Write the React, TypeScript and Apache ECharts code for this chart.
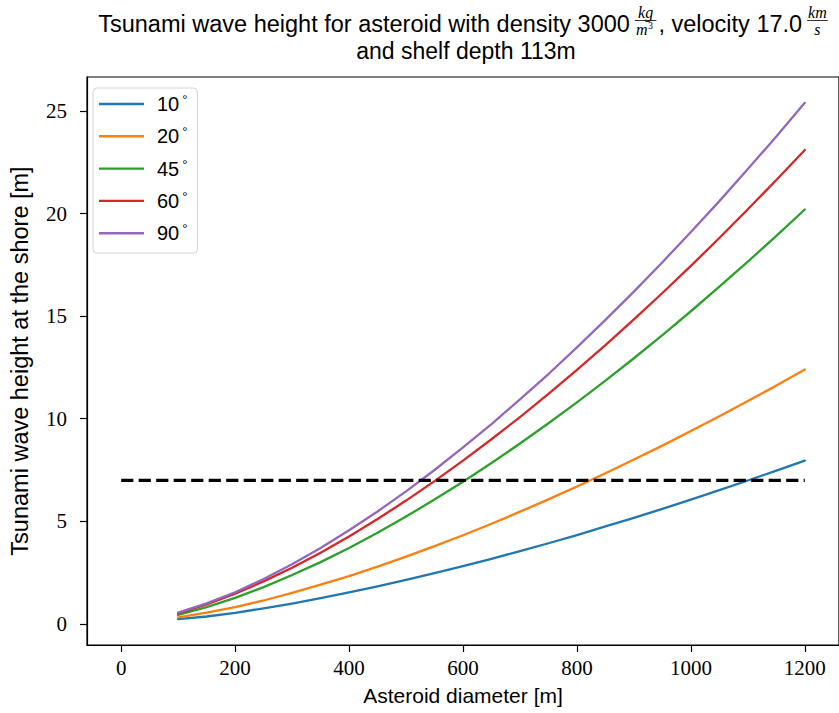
import React, { useEffect, useRef } from "react";
import * as echarts from "echarts";

// ---- data ----
const diameters = [100, 150, 200, 250, 300, 350, 400, 450, 500, 550, 600, 650, 700, 750, 800, 850, 900, 950, 1000, 1050, 1100, 1150, 1200];
const h10 = [0.23, 0.36, 0.54, 0.76, 0.99, 1.25, 1.53, 1.83, 2.14, 2.47, 2.81, 3.17, 3.55, 3.93, 4.33, 4.75, 5.17, 5.61, 6.06, 6.52, 6.99, 7.47, 7.96];
const h20 = [0.32, 0.55, 0.82, 1.14, 1.51, 1.91, 2.33, 2.79, 3.28, 3.79, 4.32, 4.88, 5.47, 6.07, 6.7, 7.34, 8.01, 8.69, 9.4, 10.12, 10.86, 11.62, 12.4];
const h45 = [0.44, 0.82, 1.27, 1.79, 2.38, 3.01, 3.7, 4.44, 5.23, 6.06, 6.93, 7.84, 8.79, 9.78, 10.8, 11.86, 12.95, 14.08, 15.24, 16.44, 17.66, 18.91, 20.2];
const h60 = [0.51, 0.95, 1.47, 2.07, 2.74, 3.47, 4.26, 5.11, 6.01, 6.96, 7.96, 9.0, 10.08, 11.21, 12.38, 13.59, 14.84, 16.13, 17.45, 18.81, 20.21, 21.64, 23.1];
const h90 = [0.55, 1.0, 1.54, 2.19, 2.91, 3.7, 4.56, 5.48, 6.46, 7.5, 8.6, 9.74, 10.94, 12.18, 13.48, 14.82, 16.2, 17.63, 19.1, 20.61, 22.17, 23.76, 25.4];
const angleNames = ["10°", "20°", "45°", "60°", "90°"];
const thresholdX = [0, 1200];
const thresholdHeight = 7;
const xTickValues = [0, 200, 400, 600, 800, 1000, 1200];
const yTickValues = [0, 5, 10, 15, 20, 25];

const COLORS = ["#1f77b4", "#ff7f0e", "#2ca02c", "#d62728", "#9467bd"];
const SANS = "Liberation Sans";
const SERIF = "Liberation Serif";

function measure(text: string, font: string): number {
  const c = document.createElement("canvas").getContext("2d");
  if (!c) return text.length * 10;
  c.font = font;
  return c.measureText(text).width;
}

function buildTitle(): any[] {
  const mainFont = `23.5px "${SANS}"`;
  const fracFont = `italic 16px "${SERIF}"`;
  const p1 = "Tsunami wave height for asteroid with density 3000";
  const p2 = ", velocity 17.0";
  const w1 = measure(p1, mainFont);
  const w2 = measure(p2, mainFont);
  const mw = measure("m", fracFont);
  const gapBefore = 3;
  const gapAfter = 0;
  const fw1 = Math.max(measure("kg", fracFont), mw + 8) + 6;
  const fw2 = Math.max(measure("km", fracFont), measure("s", fracFont)) + 6;
  const total = w1 + gapBefore + fw1 + gapAfter + w2 + gapBefore + fw2;
  const cx = 464;
  let x = cx - total / 2;
  const yMain = 24;
  const els: any[] = [];
  const mainStyle = (t: string) => ({ text: t, fill: "#000", font: mainFont, verticalAlign: "middle", align: "left" });
  els.push({ type: "text", x, y: yMain, style: mainStyle(p1) });
  x += w1 + gapBefore;
  // fraction kg / m^3
  const c1 = x + fw1 / 2;
  els.push({ type: "text", x: c1, y: 12.5, style: { text: "kg", fill: "#000", font: fracFont, align: "center", verticalAlign: "middle" } });
  els.push({ type: "line", shape: { x1: x + 2, y1: 20.5, x2: x + fw1 - 2, y2: 20.5 }, style: { stroke: "#000", lineWidth: 0.8 } });
  els.push({ type: "text", x: c1 - 4 - mw / 2, y: 29, style: { text: "m", fill: "#000", font: fracFont, align: "left", verticalAlign: "middle" } });
  els.push({ type: "text", x: c1 - 4 + mw / 2 + 0.5, y: 25.5, style: { text: "3", fill: "#000", font: `10px "${SERIF}"`, align: "left", verticalAlign: "middle" } });
  x += fw1 + gapAfter;
  els.push({ type: "text", x, y: yMain, style: mainStyle(p2) });
  x += w2 + gapBefore;
  const c2 = x + fw2 / 2;
  els.push({ type: "text", x: c2, y: 12.5, style: { text: "km", fill: "#000", font: fracFont, align: "center", verticalAlign: "middle" } });
  els.push({ type: "line", shape: { x1: x + 2, y1: 20.5, x2: x + fw2 - 2, y2: 20.5 }, style: { stroke: "#000", lineWidth: 0.8 } });
  els.push({ type: "text", x: c2, y: 29, style: { text: "s", fill: "#000", font: fracFont, align: "center", verticalAlign: "middle" } });
  // second line
  els.push({ type: "text", x: 466, y: 51, style: { text: "and shelf depth 113m", fill: "#000", font: `23px "${SANS}"`, align: "center", verticalAlign: "middle" } });
  return els;
}

export default function App() {
  const ref = useRef<HTMLDivElement>(null);
  useEffect(() => {
    if (!ref.current) return;
    const chart = echarts.init(ref.current, undefined, { renderer: "svg" });
    const curves = [h10, h20, h45, h60, h90];
    const series: any[] = curves.map((vals, i) => ({
      name: angleNames[i],
      type: "line",
      data: diameters.map((d, k) => [d, vals[k]]),
      symbol: "none",
      smooth: false,
      lineStyle: { color: COLORS[i], width: 2.3, join: "round", cap: "round" },
      itemStyle: { color: COLORS[i] },
      z: 3 + i,
    }));
    series.push({
      name: "threshold",
      type: "line",
      data: thresholdX.map((d) => [d, thresholdHeight]),
      symbol: "none",
      lineStyle: { color: "#000", width: 3.2, type: [12.2, 5.3] },
      z: 10,
    });
    const axisLineStyle = { color: "#000", width: 1.2 };
    chart.setOption({
      animation: false,
      backgroundColor: "#fff",
      grid: {
        left: 82,
        top: 77,
        right: -3.5,
        bottom: 68,
        show: true,
        borderColor: "#000",
        borderWidth: 1.2,
        backgroundColor: "transparent",
      },
      legend: {
        data: angleNames,
        orient: "vertical",
        left: 93,
        top: 88,
        padding: [5, 10, 10, 6],
        icon: "rect",
        itemWidth: 45,
        itemHeight: 2.4,
        itemGap: 11.3,
        borderColor: "#d5d5d5",
        borderWidth: 1,
        borderRadius: 4,
        backgroundColor: "rgba(255,255,255,0.8)",
        formatter: (name: string) => `{n|${name.replace("°", "")}}{d|°}`,
        textStyle: {
          fontFamily: SANS,
          fontSize: 20,
          color: "#000",
          padding: [0, 0, 0, 8],
          rich: {
            n: { fontFamily: SANS, fontSize: 20, color: "#000", lineHeight: 22 },
            d: { fontFamily: SANS, fontSize: 13, color: "#000", verticalAlign: "top", padding: [0, 0, 0, 3], lineHeight: 22 },
          },
        },
      },
      xAxis: {
        type: "value",
        min: -60,
        max: 1260,
        name: "Asteroid diameter [m]",
        nameLocation: "middle",
        nameGap: 40,
        nameTextStyle: { fontFamily: SANS, fontSize: 21, color: "#000" },
        axisLine: { show: true, onZero: false, lineStyle: axisLineStyle },
        axisTick: { show: true, length: 7, lineStyle: axisLineStyle, customValues: xTickValues },
        axisLabel: { fontFamily: SERIF, fontSize: 21, color: "#000", margin: 12, customValues: xTickValues, formatter: (v: number) => String(v) },
        splitLine: { show: false },
      },
      yAxis: {
        type: "value",
        min: -1.03,
        max: 26.66,
        name: "Tsunami wave height at the shore [m]",
        nameLocation: "middle",
        nameGap: 55,
        nameRotate: 90,
        nameTextStyle: { fontFamily: SANS, fontSize: 23.5, color: "#000" },
        axisLine: { show: true, onZero: false, lineStyle: axisLineStyle },
        axisTick: { show: true, length: 7, lineStyle: axisLineStyle, customValues: yTickValues },
        axisLabel: { fontFamily: SERIF, fontSize: 21, color: "#000", margin: 20, customValues: yTickValues, formatter: (v: number) => String(v) },
        splitLine: { show: false },
      },
      graphic: buildTitle(),
      series,
    });
    return () => chart.dispose();
  }, []);
  return (
    <div
      ref={ref}
      style={{ position: "fixed", left: 0, top: 0, width: 839, height: 713, background: "#fff" }}
    />
  );
}
